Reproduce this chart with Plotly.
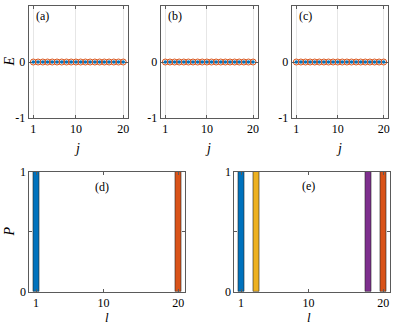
import plotly.graph_objects as go

# top row: energies E_j for three cases (all zero)
j = [1, 2, 3, 4, 5, 6, 7, 8, 9, 10, 11, 12, 13, 14, 15, 16, 17, 18, 19, 20]
E_a = [0, 0, 0, 0, 0, 0, 0, 0, 0, 0, 0, 0, 0, 0, 0, 0, 0, 0, 0, 0]
E_b = [0, 0, 0, 0, 0, 0, 0, 0, 0, 0, 0, 0, 0, 0, 0, 0, 0, 0, 0, 0]
E_c = [0, 0, 0, 0, 0, 0, 0, 0, 0, 0, 0, 0, 0, 0, 0, 0, 0, 0, 0, 0]

# bottom row: probability P on site l
d_sites = [1, 20]
d_P = [1, 1]
e_sites = [1, 3, 18, 20]
e_P = [1, 1, 1, 1]

BLUE = '#0072BD'
ORANGE = '#D95319'
YELLOW = '#EDB120'
PURPLE = '#7E2F8E'
d_colors = [BLUE, ORANGE]
e_colors = [BLUE, YELLOW, PURPLE, ORANGE]

W, H = 393, 325
FONT = 'Liberation Serif, Times New Roman, serif'
FRAME = '#5a5a5a'


def px_x(v):
    return v / W


def px_y(v):
    return 1 - v / H


def label(fig, x, y, text, size=12, angle=0):
    # pixel position of the text centre, measured from the top-left corner
    fig.add_annotation(x=px_x(x), y=px_y(y), xref='paper', yref='paper',
                       xanchor='center', yanchor='middle',
                       text=text, textangle=angle, showarrow=False,
                       font=dict(family=FONT, size=size, color='black'))


fig = go.Figure()

top_panels = [
    ('x', 'y', E_a, (28.6, 128.0), '(a)'),
    ('x2', 'y2', E_b, (160.7, 257.7), '(b)'),
    ('x3', 'y3', E_c, (291.7, 388.3), '(c)'),
]
for xa, ya, E, (x0, x1), lab in top_panels:
    fig.add_trace(go.Scatter(
        x=j, y=E, xaxis=xa, yaxis=ya, mode='lines+markers',
        line=dict(color=ORANGE, width=1),
        marker=dict(symbol='circle-open', size=6, color=ORANGE, line=dict(width=1)),
        showlegend=False
    ))
    fig.add_trace(go.Scatter(
        x=j, y=E, xaxis=xa, yaxis=ya, mode='markers',
        marker=dict(size=3.5, color=BLUE),
        showlegend=False
    ))
    label(fig, x0 + 14, 16, lab)
    label(fig, (x0 + x1) / 2 - 1, 148, '<i>j</i>', size=14)

fig.add_trace(go.Bar(x=d_sites, y=d_P, width=0.8, xaxis='x4', yaxis='y4',
                     marker=dict(color=d_colors, line=dict(color='#222', width=0.6)),
                     showlegend=False))
fig.add_trace(go.Bar(x=e_sites, y=e_P, width=0.8, xaxis='x5', yaxis='y5',
                     marker=dict(color=e_colors, line=dict(color='#222', width=0.6)),
                     showlegend=False))

axis_common = dict(
    showline=True, linecolor=FRAME, linewidth=1, mirror='ticks',
    ticks='inside', ticklen=3, tickcolor=FRAME, zeroline=False,
    automargin=False,
    tickfont=dict(family=FONT, size=12, color='black'),
)

layout = dict(
    width=W, height=H, margin=dict(l=0, r=0, t=0, b=0),
    plot_bgcolor='white', paper_bgcolor='white', bargap=0,
    font=dict(family=FONT),
)
top_dom = [px_y(118), px_y(6)]
for i, (xa, ya, E, (x0, x1), lab) in enumerate(top_panels):
    n = '' if i == 0 else str(i + 1)
    layout['xaxis' + n] = dict(
        axis_common, domain=[px_x(x0), px_x(x1)], range=[0, 21],
        tickvals=[1, 10, 20], anchor='y' + n,
        showgrid=True, gridcolor='#e6e6e6', gridwidth=1,
    )
    layout['yaxis' + n] = dict(
        axis_common, domain=top_dom, range=[-1, 1],
        tickvals=[-1, 0, 1], ticktext=['-1', '0', '1'], anchor='x' + n,
        showgrid=False,
    )

bot_dom = [px_y(291.7), px_y(171.7)]
for n, (x0, x1) in (('4', (29.3, 185.0)), ('5', (234.3, 390.0))):
    layout['xaxis' + n] = dict(
        axis_common, domain=[px_x(x0), px_x(x1)], range=[0.1, 20.9],
        tickvals=[1, 10, 20], anchor='y' + n, showgrid=False,
    )
    layout['yaxis' + n] = dict(
        axis_common, domain=bot_dom, range=[0, 1],
        tickvals=[0, 0.5, 1], ticktext=['0', '', '1'], anchor='x' + n,
        showgrid=False,
    )
fig.update_layout(**layout)

label(fig, 8.5, 62, '<i>E</i>', size=14, angle=-90)
label(fig, 9.5, 232, '<i>P</i>', size=14, angle=-90)
label(fig, 102, 187, '(d)')
label(fig, 308, 186, '(e)')
label(fig, 107, 317, '<i>l</i>', size=13)
label(fig, 309, 317, '<i>l</i>', size=13)

fig.write_html("out.html", config={'displayModeBar': False},
               post_script="document.body.style.margin='0';")
